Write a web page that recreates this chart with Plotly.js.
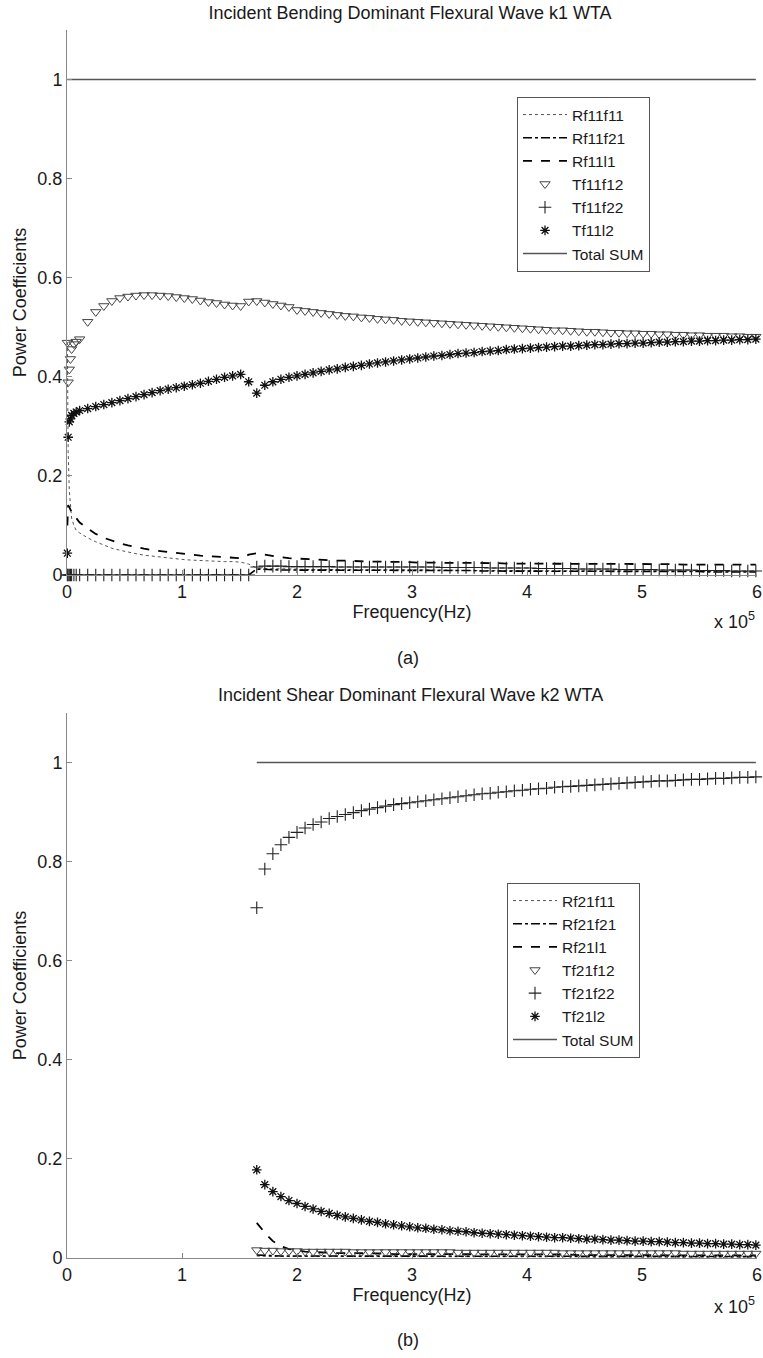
<!DOCTYPE html>
<html>
<head>
<meta charset="utf-8">
<script src="https://cdn.plot.ly/plotly-3.0.1.min.js"></script>
<style>html,body{margin:0;padding:0;background:#fff}#chart{width:763px;height:1358px}</style>
</head>
<body>
<div id="chart"></div>
<script>
// ---------- (a) Incident bending dominant flexural wave k1 ----------
const freqTop = [300,1000,2000,3000,4000,6000,8000,
 11000,18000,25000,32000,39000,46000,53000,60000,67000,74000,81000,88000,95000,102000,109000,116000,123000,130000,137000,144000,151000,158000,165000,172000,179000,186000,193000,
 200000,207000,214000,221000,228000,235000,242000,249000,256000,263000,270000,277000,284000,291000,298000,
 305000,312000,319000,326000,333000,340000,347000,354000,361000,368000,375000,382000,389000,396000,403000,
 410000,417000,424000,431000,438000,445000,452000,459000,466000,473000,480000,487000,494000,501000,508000,
 515000,522000,529000,536000,543000,550000,557000,564000,571000,578000,585000,592000,599000];

const Rf11f11 = [0.470,0.250,0.170,0.135,0.115,0.100,0.090,
 0.085,0.075,0.067,0.060,0.054,0.050,0.046,0.043,0.040,0.038,0.036,0.034,0.032,0.031,0.030,0.029,0.028,0.028,0.027,0.027,0.026,0.022,0.014,0.013,0.013,0.012,0.012,
 0.012,0.011,0.011,0.011,0.011,0.011,0.010,0.010,0.010,0.010,0.010,0.010,0.010,0.010,0.010,
 0.010,0.010,0.010,0.010,0.010,0.009,0.009,0.009,0.009,0.009,0.009,0.009,0.009,0.009,0.009,
 0.009,0.009,0.009,0.009,0.009,0.008,0.008,0.008,0.008,0.008,0.008,0.008,0.008,0.008,0.008,
 0.008,0.008,0.008,0.008,0.008,0.007,0.007,0.007,0.007,0.007,0.007,0.007,0.007];

const Rf11f21 = [0,0,0,0,0,0,0,
 0,0,0,0,0,0,0,0,0,0,0,0,0,0,0,0,0,0,0,0,0,0,0.012,0.011,0.011,0.010,0.010,
 0.010,0.010,0.010,0.010,0.010,0.010,0.010,0.010,0.009,0.009,0.009,0.009,0.009,0.009,0.009,
 0.009,0.009,0.009,0.009,0.009,0.009,0.009,0.009,0.008,0.008,0.008,0.008,0.008,0.008,0.008,
 0.008,0.008,0.008,0.008,0.008,0.008,0.008,0.008,0.007,0.007,0.007,0.007,0.007,0.007,0.007,
 0.007,0.007,0.007,0.007,0.007,0.007,0.006,0.006,0.006,0.006,0.006,0.006,0.006];

const Rf11l1 = [0.100,0.141,0.137,0.132,0.127,0.121,0.115,
 0.106,0.094,0.083,0.075,0.069,0.064,0.060,0.056,0.053,0.050,0.048,0.046,0.044,0.042,0.040,0.039,0.038,0.037,0.036,0.035,0.034,0.041,0.044,0.041,0.038,0.036,0.034,
 0.033,0.032,0.031,0.031,0.030,0.029,0.029,0.028,0.028,0.027,0.027,0.027,0.026,0.026,0.026,
 0.025,0.025,0.025,0.025,0.025,0.024,0.024,0.024,0.024,0.024,0.024,0.023,0.023,0.023,0.023,
 0.023,0.022,0.022,0.022,0.022,0.022,0.022,0.022,0.022,0.022,0.022,0.022,0.022,0.022,0.022,
 0.022,0.022,0.022,0.021,0.021,0.021,0.021,0.021,0.021,0.021,0.021,0.021,0.021];

const Tf11f12 = [0.469,0.389,0.415,0.436,0.456,0.466,0.471,
 0.476,0.511,0.531,0.543,0.553,0.559,0.562,0.564,0.565,0.565,0.564,0.563,0.561,0.559,0.557,0.554,0.551,0.549,0.546,0.544,0.543,0.552,0.553,0.550,0.547,0.544,0.541,
 0.535,0.533,0.531,0.529,0.527,0.525,0.523,0.522,0.520,0.519,0.517,0.516,0.515,0.513,0.512,
 0.511,0.510,0.509,0.508,0.507,0.506,0.505,0.504,0.503,0.502,0.501,0.500,0.499,0.498,0.497,
 0.496,0.495,0.494,0.494,0.493,0.492,0.491,0.491,0.490,0.489,0.489,0.488,0.488,0.487,0.487,
 0.486,0.486,0.485,0.485,0.484,0.484,0.483,0.483,0.483,0.482,0.482,0.481,0.481];

const Tf11f22 = [0,0,0,0,0,0,0,
 0,0,0,0,0,0,0,0,0,0,0,0,0,0,0,0,0,0,0,0,0,0,0.016,0.018,0.018,0.018,0.017,
 0.017,0.017,0.017,0.017,0.017,0.016,0.016,0.016,0.016,0.016,0.016,0.016,0.016,0.016,0.016,
 0.016,0.016,0.016,0.015,0.015,0.015,0.015,0.015,0.015,0.014,0.014,0.014,0.014,0.014,0.014,
 0.013,0.013,0.013,0.013,0.013,0.012,0.012,0.012,0.012,0.012,0.011,0.011,0.011,0.011,0.011,
 0.010,0.010,0.010,0.010,0.010,0.009,0.009,0.009,0.009,0.008,0.008,0.008,0.008];

const Tf11l2 = [0.044,0.278,0.309,0.315,0.322,0.326,0.329,
 0.332,0.336,0.340,0.344,0.348,0.352,0.356,0.360,0.364,0.368,0.372,0.375,0.378,0.381,0.384,0.387,0.391,0.395,0.399,0.402,0.405,0.390,0.367,0.383,0.390,0.395,0.399,
 0.402,0.405,0.408,0.411,0.414,0.416,0.419,0.421,0.423,0.426,0.428,0.430,0.432,0.434,0.436,
 0.438,0.440,0.442,0.443,0.445,0.447,0.448,0.449,0.451,0.452,0.453,0.455,0.456,0.457,0.458,
 0.459,0.460,0.461,0.462,0.462,0.463,0.464,0.465,0.465,0.466,0.467,0.467,0.468,0.468,0.469,
 0.470,0.470,0.471,0.471,0.472,0.472,0.473,0.473,0.474,0.474,0.475,0.475,0.476];

const sumTopFreq = [300, 599000];
const sumTop = [1, 1];

// ---------- (b) Incident shear dominant flexural wave k2 ----------
const freqBot = [165000,172000,179000,186000,193000,
 200000,207000,214000,221000,228000,235000,242000,249000,256000,263000,270000,277000,284000,291000,298000,
 305000,312000,319000,326000,333000,340000,347000,354000,361000,368000,375000,382000,389000,396000,403000,
 410000,417000,424000,431000,438000,445000,452000,459000,466000,473000,480000,487000,494000,501000,508000,
 515000,522000,529000,536000,543000,550000,557000,564000,571000,578000,585000,592000,599000];

const Rf21f11 = [0.004,0.003,0.003,0.003,0.003,
 0.002,0.002,0.002,0.002,0.002,0.002,0.002,0.002,0.002,0.002,0.002,0.002,0.002,0.002,0.002,
 0.002,0.002,0.002,0.002,0.002,0.002,0.002,0.002,0.002,0.002,0.002,0.002,0.002,0.002,0.002,
 0.002,0.002,0.002,0.002,0.002,0.002,0.002,0.002,0.002,0.002,0.002,0.002,0.002,0.002,0.002,
 0.002,0.002,0.002,0.002,0.002,0.002,0.002,0.002,0.002,0.002,0.002,0.002,0.002];

const Rf21f21 = [0.006,0.005,0.005,0.004,0.004,
 0.004,0.004,0.004,0.004,0.004,0.004,0.004,0.004,0.004,0.004,0.004,0.004,0.004,0.004,0.004,
 0.004,0.004,0.004,0.004,0.004,0.003,0.003,0.003,0.003,0.003,0.003,0.003,0.003,0.003,0.003,
 0.003,0.003,0.003,0.003,0.003,0.003,0.003,0.003,0.003,0.003,0.003,0.003,0.003,0.003,0.003,
 0.003,0.003,0.003,0.003,0.003,0.003,0.003,0.003,0.003,0.003,0.003,0.003,0.003];

const Rf21l1 = [0.071,0.051,0.034,0.024,0.018,
 0.015,0.013,0.012,0.011,0.011,0.010,0.010,0.010,0.009,0.009,0.009,0.009,0.008,0.008,0.008,
 0.008,0.008,0.008,0.008,0.008,0.007,0.007,0.007,0.007,0.007,0.007,0.007,0.007,0.007,0.007,
 0.007,0.007,0.007,0.007,0.007,0.006,0.006,0.006,0.006,0.006,0.006,0.006,0.006,0.006,0.006,
 0.006,0.006,0.006,0.006,0.006,0.005,0.005,0.005,0.005,0.005,0.005,0.005,0.005];

const Tf21f12 = [0.016,0.015,0.015,0.014,0.014,
 0.014,0.013,0.013,0.013,0.013,0.013,0.013,0.012,0.012,0.012,0.012,0.012,0.012,0.012,0.012,
 0.012,0.012,0.012,0.012,0.012,0.011,0.011,0.011,0.011,0.011,0.011,0.011,0.011,0.011,0.011,
 0.011,0.011,0.011,0.010,0.010,0.010,0.010,0.010,0.010,0.010,0.010,0.010,0.010,0.010,0.010,
 0.010,0.010,0.010,0.009,0.009,0.009,0.009,0.009,0.009,0.009,0.009,0.009,0.009];

const Tf21f22 = [0.707,0.785,0.816,0.834,0.849,
 0.859,0.868,0.875,0.880,0.887,0.891,0.895,0.899,0.903,0.906,0.909,0.912,0.915,0.917,0.919,
 0.921,0.923,0.925,0.927,0.929,0.931,0.933,0.935,0.937,0.938,0.940,0.941,0.943,0.944,0.946,
 0.947,0.948,0.950,0.951,0.952,0.953,0.954,0.955,0.956,0.957,0.958,0.959,0.960,0.961,0.962,
 0.963,0.963,0.964,0.965,0.966,0.966,0.967,0.968,0.968,0.969,0.970,0.970,0.971];

const Tf21l2 = [0.178,0.148,0.134,0.124,0.116,
 0.110,0.104,0.099,0.094,0.090,0.086,0.083,0.080,0.077,0.074,0.072,0.069,0.067,0.065,0.063,
 0.061,0.060,0.058,0.057,0.055,0.054,0.053,0.051,0.050,0.049,0.048,0.047,0.046,0.045,0.044,
 0.043,0.042,0.041,0.041,0.040,0.039,0.038,0.038,0.037,0.036,0.036,0.035,0.034,0.034,0.033,
 0.033,0.032,0.031,0.031,0.030,0.030,0.029,0.029,0.028,0.028,0.027,0.027,0.026];

const sumBotFreq = [165000, 599000];
const sumBot = [1, 1];

const xTickVals = [0,100000,200000,300000,400000,500000,600000];
const xTickText = ['0','1','2','3','4','5','6'];
const yTickVals = [0,0.2,0.4,0.6,0.8,1];
const yTickText = ['0','0.2','0.4','0.6','0.8','1'];

// ---------- styling ----------
const FONT = 'Liberation Sans, Arial, Helvetica, sans-serif';
const TXT = '#1a1a1a';
const W = 763, H = 1358;
const px = x => (x - 67) / 690;     // pixel -> paper x
const py = y => 1 - y / H;          // pixel -> paper y

function lineTr(name, x, y, dash, color, width, ax, lg) {
  return {type:'scatter', mode:'lines', name, x, y, xaxis:ax[0], yaxis:ax[1], legend:lg,
          line:{dash, color, width}, hoverinfo:'skip'};
}
function markTr(name, x, y, symbol, size, color, lw, ax, lg) {
  return {type:'scatter', mode:'markers', name, x, y, xaxis:ax[0], yaxis:ax[1], legend:lg,
          cliponaxis:false,
          marker:{symbol, size, color, line:{color, width:lw}}, hoverinfo:'skip'};
}

const A = ['x','y'], B = ['x2','y2'];
const traces = [
  lineTr('Rf11f11', freqTop, Rf11f11, 'dot', '#555', 1, A, 'legend'),
  lineTr('Rf11f21', freqTop, Rf11f21, 'dashdot', '#000', 1.6, A, 'legend'),
  lineTr('Rf11l1', freqTop, Rf11l1, 'dash', '#000', 1.8, A, 'legend'),
  markTr('Tf11f12', freqTop, Tf11f12, 'triangle-down-open', 9, '#444', 1, A, 'legend'),
  markTr('Tf11f22', freqTop, Tf11f22, 'cross-thin-open', 9, '#222', 1.1, A, 'legend'),
  markTr('Tf11l2', freqTop, Tf11l2, 'asterisk-open', 8, '#111', 1.3, A, 'legend'),
  lineTr('Total SUM', sumTopFreq, sumTop, 'solid', '#555', 1.6, A, 'legend'),

  lineTr('Rf21f11', freqBot, Rf21f11, 'dot', '#555', 1, B, 'legend2'),
  lineTr('Rf21f21', freqBot, Rf21f21, 'dashdot', '#000', 1.6, B, 'legend2'),
  lineTr('Rf21l1', freqBot, Rf21l1, 'dash', '#000', 1.8, B, 'legend2'),
  markTr('Tf21f12', freqBot, Tf21f12, 'triangle-down-open', 9, '#444', 1, B, 'legend2'),
  markTr('Tf21f22', freqBot, Tf21f22, 'cross-thin-open', 9, '#222', 1.1, B, 'legend2'),
  markTr('Tf21l2', freqBot, Tf21l2, 'asterisk-open', 8, '#111', 1.3, B, 'legend2'),
  lineTr('Total SUM', sumBotFreq, sumBot, 'solid', '#555', 1.6, B, 'legend2')
];

function xAx(anchor) {
  return {anchor, domain:[0,1], range:[0,600000], tickvals:xTickVals, ticktext:xTickText,
    ticks:'inside', ticklen:5, tickcolor:'#888', showline:true, linecolor:'#888', linewidth:1,
    showgrid:false, zeroline:false, tickfont:{family:FONT, size:18, color:TXT},
    title:{text:'Frequency(Hz)', font:{family:FONT, size:18, color:TXT}, standoff:3}};
}
function yAx(anchor, dom) {
  return {anchor, domain:dom, range:[0,1.1], tickvals:yTickVals, ticktext:yTickText,
    ticks:'inside', ticklen:5, tickcolor:'#888', showline:true, linecolor:'#888', linewidth:1,
    showgrid:false, zeroline:false, tickfont:{family:FONT, size:18, color:TXT},
    title:{text:'Power Coefficients', font:{family:FONT, size:18, color:TXT}, standoff:6}};
}
function legendAt(xpx, ypx) {
  return {x:xpx/W, y:1-ypx/H, xref:'container', yref:'container', xanchor:'left', yanchor:'top',
    bgcolor:'#fff', bordercolor:'#555', borderwidth:1, font:{family:FONT, size:15.5, color:TXT},
    tracegroupgap:0, itemwidth:44};
}
function ann(text, xpx, ypx, xanchor) {
  return {text, x:px(xpx), y:py(ypx), xref:'paper', yref:'paper', xanchor:xanchor||'center',
    yanchor:'middle', showarrow:false, font:{family:FONT, size:18, color:TXT}};
}

const layout = {
  width:W, height:H, paper_bgcolor:'#fff', plot_bgcolor:'#fff',
  margin:{l:67, r:6, t:0, b:0, autoexpand:false},
  font:{family:FONT, size:18, color:TXT},
  title:{text:'Incident Bending Dominant Flexural Wave k1 WTA', x:410/W, xanchor:'center',
         y:1-13/H, yanchor:'middle', font:{family:FONT, size:18, color:TXT}},
  xaxis:xAx('y'), yaxis:yAx('x', [py(575), py(30)]),
  xaxis2:xAx('y2'), yaxis2:yAx('x2', [py(1258), py(713)]),
  legend:legendAt(517, 97), legend2:legendAt(507, 883),
  showlegend:true,
  annotations:[
    ann('Incident Shear Dominant Flexural Wave k2 WTA', 410, 695),
    ann('x 10<sup>5</sup>', 757, 621, 'right'),
    ann('x 10<sup>5</sup>', 757, 1305, 'right'),
    ann('(a)', 408, 658),
    ann('(b)', 408, 1340)
  ]
};

Plotly.newPlot('chart', traces, layout, {displayModeBar:false, staticPlot:true});
</script>
</body>
</html>
